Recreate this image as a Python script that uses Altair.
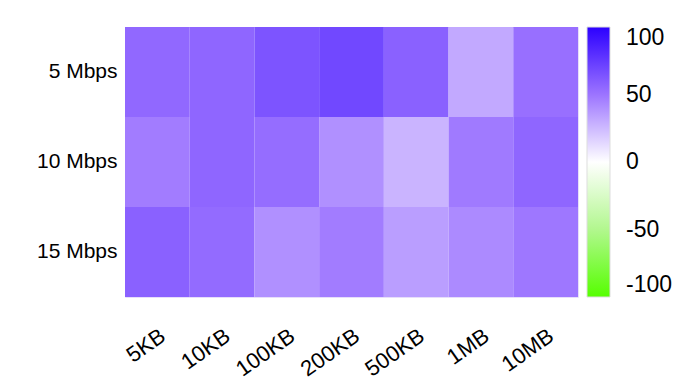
import altair as alt
import pandas as pd

sizes = ["5KB", "10KB", "100KB", "200KB", "500KB", "1MB", "10MB"]
rates = ["5 Mbps", "10 Mbps", "15 Mbps"]
vals_5 = [55, 56, 64, 69, 58, 31, 52]
vals_10 = [47, 56, 53, 40, 27, 48, 56]
vals_15 = [58, 54, 40, 47, 35, 42, 49]

rows = []
for r, vals in zip(rates, [vals_5, vals_10, vals_15]):
    for s, v in zip(sizes, vals):
        rows.append({"rate": r, "size": s, "value": v})
df = pd.DataFrame(rows)

FONT = "Liberation Sans"

chart = alt.Chart(df).mark_rect(stroke=None).encode(
    x=alt.X("size:N", sort=sizes, title=None,
            axis=alt.Axis(labelAngle=-35, labelAlign="right", labelBaseline="top",
                          labelPadding=28, ticks=False, domain=False,
                          labelFontSize=22, labelFont=FONT, labelColor="#000")),
    y=alt.Y("rate:N", sort=rates, title=None,
            axis=alt.Axis(ticks=False, domain=False, labelPadding=8,
                          labelFontSize=21, labelFont=FONT, labelColor="#000")),
    color=alt.Color("value:Q", title=None,
                    scale=alt.Scale(domain=[-100, -50, 0, 50, 100], interpolate="rgb",
                                    range=["#55ff00", "#b2f78e", "#ffffff", "#9c74ff", "#2c00ff"]),
                    legend=alt.Legend(orient="none", legendX=462, legendY=0,
                                      gradientLength=270, gradientThickness=23,
                                      direction="vertical", values=[100, 50, 0, -50, -100],
                                      labelExpr="'' + datum.value",
                                      labelFontSize=23, labelFont=FONT, labelColor="#000",
                                      labelOffset=16, labelBaseline="middle",
                                      gradientStrokeColor="#dddddd", gradientStrokeWidth=1,
                                      labelOverlap=False)),
).properties(
    width=453, height=270,
    autosize=alt.AutoSizeParams(type="none"),
    padding={"left": 117, "top": 19, "right": 95, "bottom": 92},
).configure_view(stroke="#e6defa", strokeWidth=1)

chart.save("out.html", embed_options={"renderer": "svg", "actions": False})
